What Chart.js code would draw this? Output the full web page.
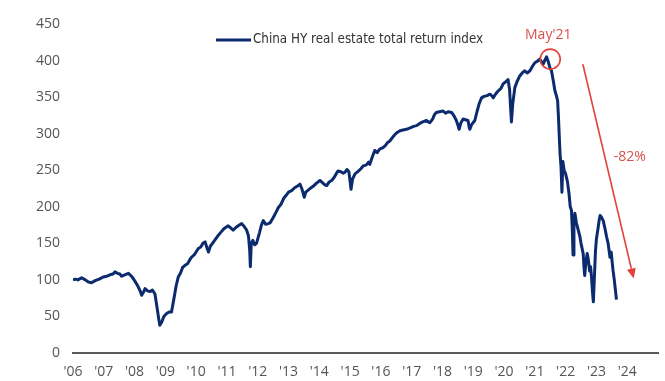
<!DOCTYPE html>
<html>
<head>
<meta charset="utf-8">
<script src="https://cdn.jsdelivr.net/npm/chart.js@4/dist/chart.umd.min.js"></script>
<style>
  html, body { margin: 0; padding: 0; background: #ffffff; }
  #wrap { width: 665px; height: 381px; }
</style>
</head>
<body>
<div id="wrap"><canvas id="c" width="665" height="381"></canvas></div>
<script>
// Time in decimal years
const dates = [
  2006.00,2006.08,2006.16,2006.28,2006.40,2006.50,2006.60,2006.72,2006.85,2006.98,
  2007.10,2007.20,2007.30,2007.36,2007.45,2007.52,2007.58,2007.68,2007.80,2007.90,
  2008.00,2008.10,2008.18,2008.23,2008.30,2008.34,2008.42,2008.50,2008.58,2008.66,
  2008.72,2008.78,2008.82,2008.88,2008.95,2009.04,2009.12,2009.20,2009.28,2009.35,
  2009.42,2009.50,2009.56,2009.64,2009.72,2009.80,2009.85,2009.95,2010.07,2010.15,
  2010.22,2010.29,2010.35,2010.40,2010.46,2010.53,2010.60,2010.70,2010.80,2010.90,
  2011.04,2011.12,2011.20,2011.30,2011.40,2011.48,2011.56,2011.64,2011.70,2011.74,
  2011.76,2011.79,2011.84,2011.90,2011.96,2012.06,2012.12,2012.18,2012.26,2012.34,
  2012.40,2012.50,2012.60,2012.67,2012.75,2012.85,2012.93,2013.00,2013.10,2013.20,
  2013.28,2013.37,2013.43,2013.48,2013.51,2013.56,2013.62,2013.70,2013.80,2013.90,
  2014.02,2014.10,2014.18,2014.24,2014.32,2014.40,2014.48,2014.56,2014.61,2014.70,
  2014.78,2014.83,2014.90,2014.96,2015.00,2015.03,2015.08,2015.16,2015.25,2015.35,
  2015.43,2015.52,2015.60,2015.64,2015.72,2015.80,2015.88,2015.96,2016.07,2016.15,
  2016.22,2016.29,2016.38,2016.46,2016.54,2016.62,2016.72,2016.83,2016.95,2017.06,
  2017.16,2017.26,2017.36,2017.48,2017.54,2017.59,2017.68,2017.74,2017.80,2017.90,
  2018.02,2018.10,2018.18,2018.30,2018.38,2018.45,2018.50,2018.54,2018.60,2018.67,
  2018.75,2018.83,2018.87,2018.89,2018.94,2019.05,2019.12,2019.20,2019.27,2019.35,
  2019.45,2019.54,2019.60,2019.65,2019.72,2019.80,2019.90,2019.97,2020.05,2020.13,
  2020.18,2020.22,2020.24,2020.28,2020.35,2020.42,2020.51,2020.59,2020.67,2020.75,
  2020.84,2020.92,2021.00,2021.08,2021.16,2021.22,2021.27,2021.33,2021.38,2021.44,
  2021.49,2021.54,2021.60,2021.65,2021.70,2021.74,2021.77,2021.80,2021.82,2021.85,
  2021.88,2021.91,2021.95,2022.00,2022.06,2022.11,2022.15,2022.19,2022.22,2022.24,
  2022.27,2022.30,2022.35,2022.41,2022.46,2022.50,2022.57,2022.60,2022.62,2022.66,
  2022.70,2022.73,2022.78,2022.81,2022.84,2022.87,2022.90,2022.94,2022.97,2023.00,
  2023.05,2023.09,2023.12,2023.16,2023.22,2023.28,2023.33,2023.38,2023.44,2023.48,
  2023.51,2023.54,2023.58,2023.62,2023.65
];
const indexValues = [
  100,101,100,103,100,97,96,99,101,104,
  105,107,108,111,109,108,105,107,109,105,
  99,92,85,79,84,88,85,84,86,81,
  65,48,38,42,50,54,56,56,75,92,
  104,110,117,120,122,128,131,135,143,145,
  150,152,144,138,146,150,154,160,165,170,
  174,171,168,172,175,177,173,168,160,140,
  118,150,154,148,150,165,175,181,176,177,
  178,185,193,199,203,212,216,220,222,226,
  228,231,225,218,213,220,222,225,228,232,
  236,233,230,229,234,236,240,246,249,248,
  246,247,251,248,235,224,238,245,248,252,
  256,257,261,258,268,277,274,279,281,284,
  288,290,295,299,302,304,305,306,308,310,
  311,314,316,318,316,315,320,326,329,330,
  331,328,330,329,324,318,312,306,315,320,
  319,318,308,306,312,318,330,342,349,351,
  352,354,352,349,354,358,362,368,371,374,
  360,330,316,340,363,371,379,383,386,383,
  386,392,397,399,402,398,395,401,405,398,
  390,386,372,359,352,345,320,290,272,255,
  220,262,250,245,234,218,200,195,165,134,
  180,191,178,168,160,150,136,115,106,125,
  136,130,112,118,104,85,70,110,140,156,
  170,182,188,186,181,170,159,150,131,138,
  125,113,100,85,73
];
const seriesLabel = "China HY real estate total return index";
const yearTicks = [2006,2007,2008,2009,2010,2011,2012,2013,2014,2015,2016,2017,2018,2019,2020,2021,2022,2023,2024];
const yTicks = [0,50,100,150,200,250,300,350,400,450];
// annotation anchors in data units
const peakLabel = "May'21";
const peakPoint = { x: 2021.5, y: 402 };
const dropLabel = "-82%";
const arrowFrom = { x: 2022.56, y: 395 };
const arrowTo = { x: 2024.21, y: 102 };
const dropLabelPos = { x: 2024.08, y: 268 };

const NAVY = '#0c2a6e';
const RED = '#e2423b';
const TXT = '#555555';
const FONT = "'Open Sans', 'Liberation Sans', sans-serif";

const points = dates.map((d, i) => ({ x: d, y: indexValues[i] }));

const annotate = {
  id: 'annotate',
  afterDatasetsDraw(chart) {
    const ctx = chart.ctx;
    const xs = chart.scales.x, ys = chart.scales.y;
    ctx.save();
    // legend (inside plot area)
    const lx = 216, ly = 40;
    ctx.strokeStyle = NAVY; ctx.lineWidth = 3;
    ctx.beginPath(); ctx.moveTo(lx, ly); ctx.lineTo(lx + 35, ly); ctx.stroke();
    ctx.fillStyle = '#333333';
    ctx.font = "13.3px 'Liberation Sans Narrow', 'DejaVu Sans Condensed', sans-serif";
    ctx.textAlign = 'left'; ctx.textBaseline = 'middle';
    ctx.fillText(seriesLabel, lx + 37, ly);

    // circle at peak
    const cx = xs.getPixelForValue(peakPoint.x), cy = ys.getPixelForValue(peakPoint.y);
    ctx.strokeStyle = RED; ctx.lineWidth = 1.6;
    ctx.beginPath(); ctx.arc(cx, cy, 10, 0, Math.PI * 2); ctx.stroke();
    ctx.fillStyle = '#d9514b';
    ctx.font = "14px " + FONT;
    ctx.textAlign = 'center'; ctx.textBaseline = 'middle';
    ctx.fillText(peakLabel, cx - 2, cy - 24);

    // arrow
    const ax1 = xs.getPixelForValue(arrowFrom.x), ay1 = ys.getPixelForValue(arrowFrom.y);
    const ax2 = xs.getPixelForValue(arrowTo.x), ay2 = ys.getPixelForValue(arrowTo.y);
    const ang = Math.atan2(ay2 - ay1, ax2 - ax1);
    const headL = 10, headW = 4.5;
    const bx = ax2 - headL * Math.cos(ang), by = ay2 - headL * Math.sin(ang);
    ctx.strokeStyle = RED; ctx.lineWidth = 1.6;
    ctx.beginPath(); ctx.moveTo(ax1, ay1); ctx.lineTo(bx, by); ctx.stroke();
    ctx.fillStyle = RED;
    ctx.beginPath();
    ctx.moveTo(ax2, ay2);
    ctx.lineTo(bx + headW * Math.sin(ang), by - headW * Math.cos(ang));
    ctx.lineTo(bx - headW * Math.sin(ang), by + headW * Math.cos(ang));
    ctx.closePath(); ctx.fill();

    ctx.fillStyle = '#d9514b';
    ctx.font = "14px " + FONT;
    ctx.fillText(dropLabel, xs.getPixelForValue(dropLabelPos.x), ys.getPixelForValue(dropLabelPos.y));
    ctx.restore();
  }
};

new Chart(document.getElementById('c'), {
  type: 'line',
  data: {
    datasets: [{
      label: seriesLabel,
      data: points,
      borderColor: NAVY,
      backgroundColor: NAVY,
      borderWidth: 3,
      pointRadius: 0,
      tension: 0,
      borderJoinStyle: 'round'
    }]
  },
  options: {
    responsive: false,
    animation: false,
    layout: { padding: { top: 24, right: 7, left: 0, bottom: 0 } },
    plugins: { legend: { display: false }, tooltip: { enabled: false } },
    scales: {
      x: {
        type: 'linear',
        min: 2006, max: 2025,
        afterBuildTicks(scale) { scale.ticks = yearTicks.concat([2025]).map(v => ({ value: v })); },
        afterFit(scale) { scale.height = 28; scale.paddingRight = 0; scale.paddingLeft = 0; },
        ticks: {
          autoSkip: false, maxRotation: 0, padding: 11,
          color: TXT, font: { family: FONT, size: 14 },
          callback(v) { return yearTicks.includes(v) ? "'" + String(v).slice(2) : ''; }
        },
        grid: { display: false, drawTicks: false },
        border: { display: true, color: '#5a5a5a', width: 2 }
      },
      y: {
        min: 0, max: 450,
        afterBuildTicks(scale) { scale.ticks = yTicks.map(v => ({ value: v })); },
        afterFit(scale) { scale.width = 73; scale.paddingTop = 0; scale.paddingBottom = 0; },
        ticks: { padding: 13, color: TXT, font: { family: FONT, size: 14 } },
        grid: { display: false, drawTicks: false },
        border: { display: false }
      }
    }
  },
  plugins: [annotate]
});
</script>
</body>
</html>
